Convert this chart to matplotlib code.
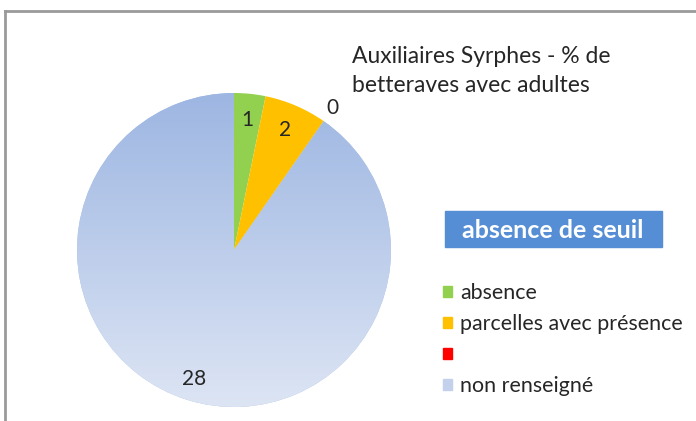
import numpy as np
import matplotlib.pyplot as plt
from matplotlib.lines import Line2D
from matplotlib.patches import Rectangle

plt.rcParams['font.family'] = ['Lato', 'DejaVu Sans']

# data
categories = ['absence', 'parcelles avec présence', '', 'non renseigné']
values = [1, 2, 0, 28]
colors = ['#92d050', '#ffc000', '#ff0000', '#a9bfe4']
title = 'Auxiliaires Syrphes - % de\nbetteraves avec adultes'
box_text = 'absence de seuil'

W, H = 696, 421
fig = plt.figure(figsize=(W / 100, H / 100), dpi=100)

# frame lines (top and left)
fig.add_artist(Line2D([5 / W, 1], [1 - 11 / H, 1 - 11 / H], color='#9a9a9a', lw=2))
fig.add_artist(Line2D([5 / W, 5 / W], [0, 1 - 11 / H], color='#9a9a9a', lw=2))

# pie axes: centre (234, 250), radius 157 px
cx, cy, r = 234, 250, 157
ax = fig.add_axes([(cx - r) / W, (H - cy - r) / H, 2 * r / W, 2 * r / H])
wedges, _ = ax.pie(values, colors=colors, startangle=90, counterclock=False,
                   radius=1, wedgeprops=dict(linewidth=0))
ax.set_xlim(-1, 1)
ax.set_ylim(-1, 1)
ax.set_aspect('equal')
ax.axis('off')

# gradient for the big slice
grad = np.linspace(0, 1, 256).reshape(-1, 1)
top = np.array([0x9d, 0xb6, 0xe2]) / 255
bot = np.array([0xdd, 0xe5, 0xf4]) / 255
img = top + (bot - top) * grad[:, :, None]
im = ax.imshow(img, extent=(-1, 1, -1, 1), origin='upper', zorder=wedges[3].get_zorder() + 0.1)
im.set_clip_path(wedges[3])

# data labels
total = sum(values)
start = 90
label_r = [0.83, 0.83, 1.1, 0.86]
for v, lr in zip(values, label_r):
    span = v / total * 360
    mid = np.deg2rad(start - span / 2)
    start -= span
    ax.text(lr * np.cos(mid), lr * np.sin(mid), str(v), ha='center', va='center',
            fontsize=15, color='#262626', zorder=10)

# title
fig.text(352 / W, 1 - 46 / H, title, ha='left', va='top', fontsize=16.5,
         color='#262626', linespacing=1.45)

# blue box
fig.add_artist(Rectangle((445 / W, 1 - 247 / H), 217 / W, 36 / H, color='#558ed5',
                         transform=fig.transFigure))
fig.text(553 / W, 1 - 230 / H, box_text, ha='center', va='center', fontsize=18,
         color='white', fontweight='bold')

# legend
handles = [Rectangle((0, 0), 1, 1, color=c) for c in colors[:3]]
handles.append(Rectangle((0, 0), 1, 1, color='#c3d1ec'))
leg = fig.legend(handles, categories, loc='upper left', bbox_to_anchor=(443 / W, 1 - 283 / H),
                 frameon=False, fontsize=15.4, handlelength=0.42, handleheight=0.42,
                 handletextpad=0.37, labelspacing=0.52, labelcolor='#262626',
                 borderpad=0, borderaxespad=0)

fig.savefig('out.png', dpi=100)
